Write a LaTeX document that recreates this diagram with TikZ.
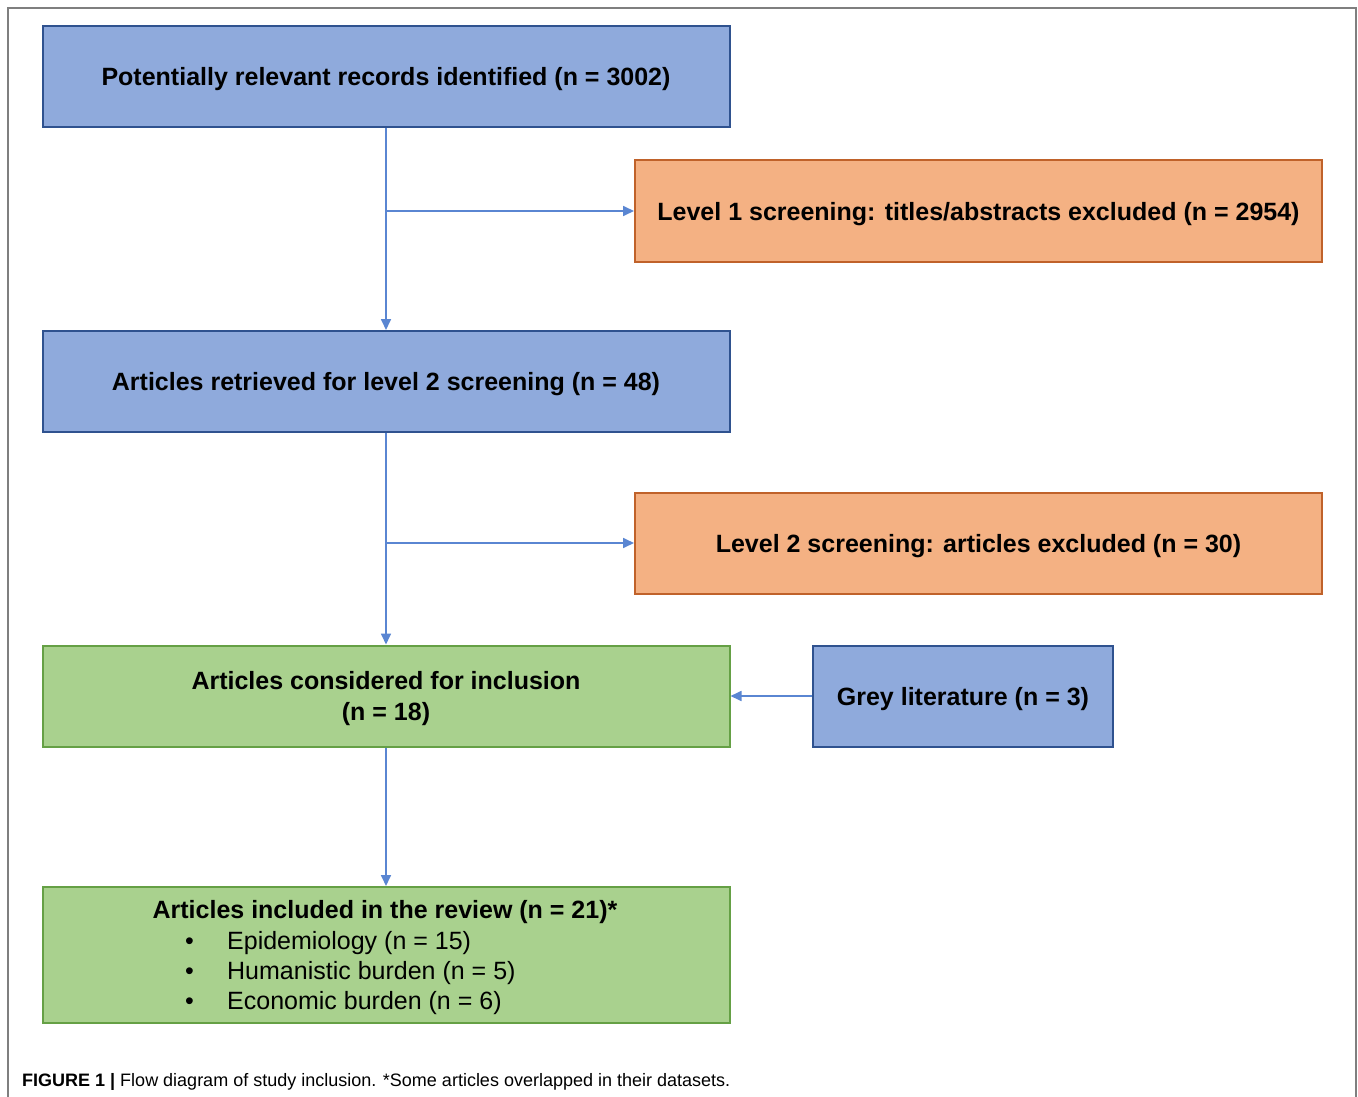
\documentclass[tikz,border=0pt]{standalone}
\usepackage{fontspec}
\setmainfont{Liberation Sans}
\newfontfamily\capfont{Liberation Sans}
\usetikzlibrary{arrows.meta}
\definecolor{bfill}{HTML}{8FAADC}
\definecolor{bdraw}{HTML}{2F528F}
\definecolor{ofill}{HTML}{F4B183}
\definecolor{odraw}{HTML}{C0622A}
\definecolor{gfill}{HTML}{A9D18E}
\definecolor{gdraw}{HTML}{65A045}
\definecolor{conncol}{HTML}{5A86D2}
\definecolor{framecol}{HTML}{7F7F7F}
\begin{document}
\begin{tikzpicture}[x=1pt,y=-1pt,
  box/.style={draw, line width=2pt, minimum width=687pt, minimum height=101pt, inner sep=0pt, align=center,
     text depth=0pt, font=\fontsize{25}{31}\selectfont\bfseries},
  bluebox/.style={box, fill=bfill, draw=bdraw},
  orangebox/.style={box, fill=ofill, draw=odraw},
  greenbox/.style={box, fill=gfill, draw=gdraw},
  conn/.style={draw=conncol, line width=1.7pt, -{Triangle[length=11pt,width=10pt]}},
  plain/.style={inner sep=0pt, font=\fontsize{25}{30.5}\selectfont}]
\useasboundingbox (0,0) rectangle (1358,1097);
\fill[white] (0,0) rectangle (1358,1097);
\draw[framecol, line width=2pt] (8,1097) -- (8,8) -- (1356,8) -- (1356,1097);

\node[bluebox] (A) at (386,76.5) {Potentially relevant records identified (n = 3002)};
\node[orangebox] (B) at (978.5,211) {Level 1 screening: titles/abstracts excluded (n = 2954)};
\node[bluebox] (C) at (386,381.5) {Articles retrieved for level 2 screening (n = 48)};
\node[orangebox] (D) at (978.5,543) {Level 2 screening: articles excluded (n = 30)};
\node[greenbox] (E) at (386,696) {Articles considered for inclusion\\(n = 18)};
\node[bluebox, minimum width=300pt] (F) at (963,696) {Grey literature (n = 3)};
\node[greenbox, minimum height=136pt] (G) at (386,955) {};
\node[plain, font=\fontsize{25}{30.5}\selectfont\bfseries, anchor=base] (Gt) at (385,918) {Articles included in the review (n = 21)*};
\node[plain, anchor=base west] (G1) at (185,949) {\makebox[42pt][l]{•}Epidemiology (n = 15)};
\node[plain, anchor=base west] (G2) at (185,979) {\makebox[42pt][l]{•}Humanistic burden (n = 5)};
\node[plain, anchor=base west] (G3) at (185,1009) {\makebox[42pt][l]{•}Economic burden (n = 6)};

\draw[conn] (A.south) -- (C.north);
\draw[conn] (A.south |- B.west) -- (B.west);
\draw[conn] (C.south) -- (E.north);
\draw[conn] (C.south |- D.west) -- (D.west);
\draw[conn] (F.west) -- (E.east);
\draw[conn] (E.south) -- (G.north);

\node[inner sep=0pt, anchor=base west, font=\capfont\fontsize{18}{20}\selectfont] (cap) at (22,1086) {\textbf{FIGURE 1 |} Flow diagram of study inclusion. *Some articles overlapped in their datasets.};
\end{tikzpicture}
\end{document}
